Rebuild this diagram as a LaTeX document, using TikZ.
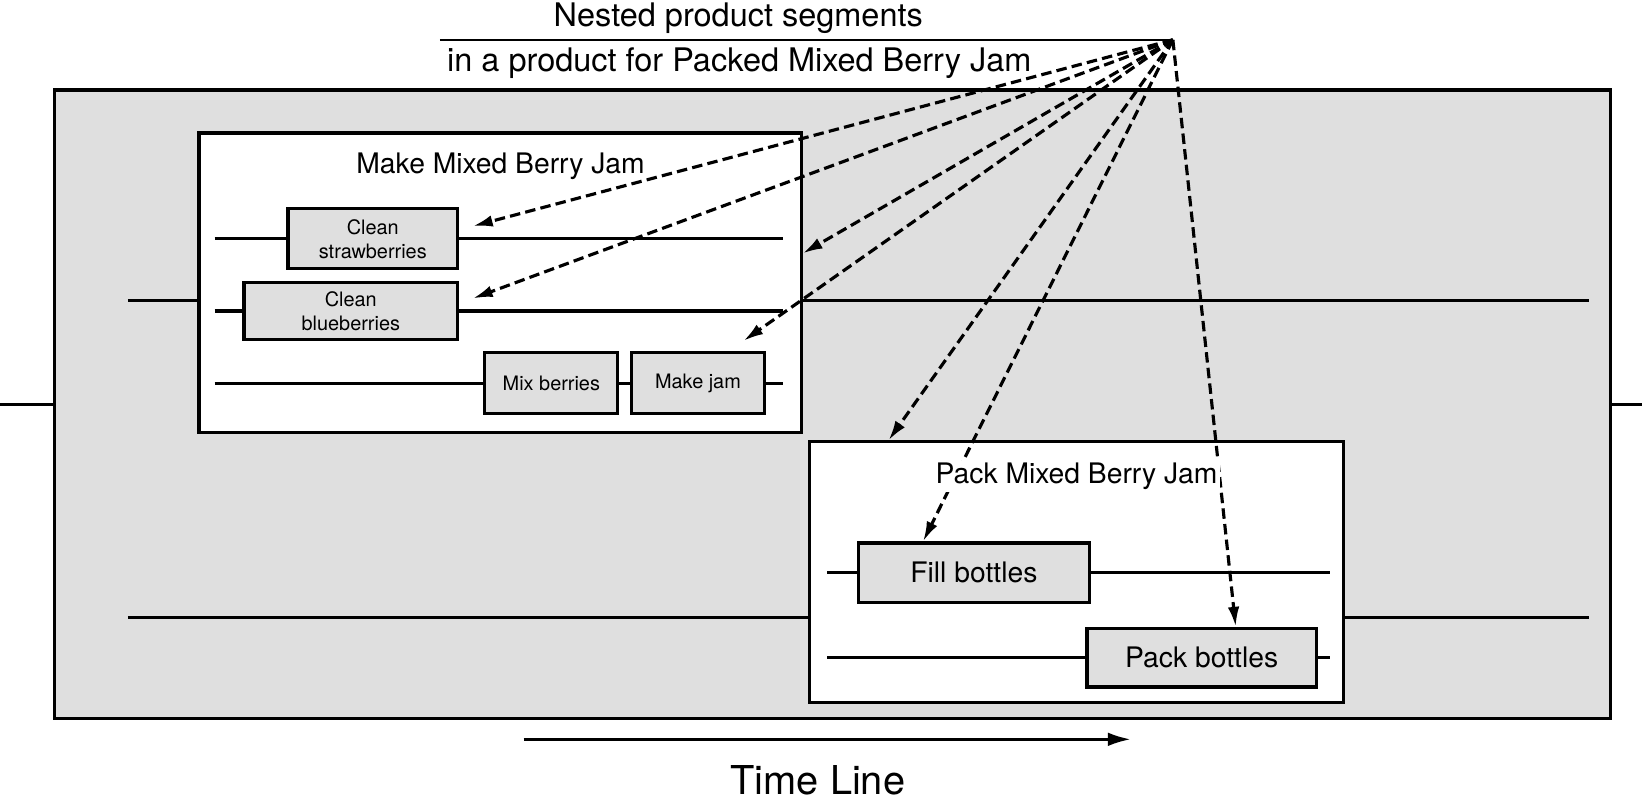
\documentclass[tikz,border=0pt]{standalone}
\usepackage{fontspec}
\setmainfont{TeX Gyre Heros}
\usetikzlibrary{arrows.meta,positioning}
\definecolor{segfill}{RGB}{223,223,223}

\begin{document}
\begin{tikzpicture}[x=1pt,y=-1pt,
    seg/.style={draw,line width=3pt,fill=segfill,inner sep=0pt},
    part/.style={draw,line width=3pt,fill=white,inner sep=0pt},
    task/.style={draw,line width=3pt,fill=segfill,inner sep=0pt,align=center,font=\fontsize{19}{23}\selectfont},
    stage/.style={task,font=\fontsize{27}{32}\selectfont},
    flow/.style={line width=3pt},
    ptr/.style={line width=3pt,dash pattern=on 10pt off 5pt,-{Latex[length=19pt,width=11pt]}}]
  \useasboundingbox (0,0) rectangle (1568,768);
  \node[anchor=base,font=\fontsize{31}{37}\selectfont] (head) at (705,25) {Nested product segments};
  \node[anchor=base,font=\fontsize{31}{37}\selectfont] (sub) at (706,68) {in a product for Packed Mixed Berry Jam};
  \coordinate (hub) at (1120,38);
  \coordinate (rule) at (420,38);
  \draw[line width=2pt] (rule) -- (hub);

  \node[seg,minimum width=1486pt,minimum height=600pt] (prod) at (795,386) {};
  \coordinate (in0) at (0,386);
  \coordinate (out0) at (1568,386);
  \draw[flow] (in0) -- (prod.west);
  \draw[flow] (prod.east) -- (out0);

  \coordinate (inA) at (122,287);
  \coordinate (outA) at (1517,287);
  \coordinate (inB) at (122,590);
  \coordinate (outB) at (1517,590);
  \draw[flow] (inA) -- (outA);
  \draw[flow] (inB) -- (outB);

  \node[part,minimum width=575pt,minimum height=286pt] (make) at (477.5,270) {};
  \node[part,minimum width=510pt,minimum height=249pt] (pack) at (1028,546.5) {};

  \node[task,minimum width=162pt,minimum height=57pt] (cs) at (356,228) {Clean\\strawberries};
  \node[task,minimum width=204pt,minimum height=55pt] (cb) at (335,297) {Clean\\blueberries};
  \node[task,minimum width=127pt,minimum height=58pt] (mb) at (526.5,366) {Mix berries};
  \node[task,minimum width=127pt,minimum height=58pt,right=10pt of mb] (mj) {Make jam};
  \node[stage,minimum width=220pt,minimum height=57pt] (fb) at (930,547) {Fill bottles};
  \node[stage,minimum width=219pt,minimum height=56pt] (pb) at (1147.5,628) {Pack bottles};

  \coordinate (a1) at (205,228);
  \coordinate (b1) at (748,228);
  \coordinate (a2) at (205,297);
  \coordinate (b2) at (748,297);
  \coordinate (a3) at (205,366);
  \coordinate (b3) at (748,366);
  \coordinate (a4) at (790,547);
  \coordinate (b4) at (1270,547);
  \coordinate (a5) at (790,628);
  \coordinate (b5) at (1270,628);
  \draw[flow] (a1) -- (cs.west);
  \draw[flow] (cs.east) -- (b1);
  \draw[flow] (a2) -- (cb.west);
  \draw[flow] (cb.east) -- (b2);
  \draw[flow] (a3) -- (mb.west);
  \draw[flow] (mb.east) -- (mj.west);
  \draw[flow] (mj.east) -- (b3);
  \draw[flow] (a4) -- (fb.west);
  \draw[flow] (fb.east) -- (b4);
  \draw[flow] (a5) -- (pb.west);
  \draw[flow] (pb.east) -- (b5);

  \node[anchor=base,font=\fontsize{27}{32}\selectfont] (maketitle) at (478,166) {Make Mixed Berry Jam};

  \draw[ptr] (hub) -- ([xshift=13pt,yshift=12pt]cs.east);
  \draw[ptr] (hub) -- ([yshift=28pt]make.east);
  \draw[ptr] (hub) -- ([xshift=13pt,yshift=12pt]cb.east);
  \draw[ptr] (hub) -- ([xshift=43.5pt,yshift=10pt]mj.north);
  \draw[ptr] (hub) -- ([xshift=77pt]pack.north west);
  \draw[ptr] (hub) -- ([xshift=63pt]fb.north west);
  \draw[ptr] (hub) -- ([xshift=32.5pt]pb.north);

  \node[anchor=base,fill=white,inner sep=2pt,font=\fontsize{27}{32}\selectfont] (packtitle) at (1028,462) {Pack Mixed Berry Jam};

  \coordinate (t0) at (500,706);
  \coordinate (t1) at (1080,706);
  \draw[line width=3pt,-{Latex[length=22pt,width=13pt]}] (t0) -- (t1);
  \node[anchor=base,inner sep=0pt,font=\fontsize{38}{44}\selectfont] (time) at (781,759) {Time Line};
\end{tikzpicture}
\end{document}
